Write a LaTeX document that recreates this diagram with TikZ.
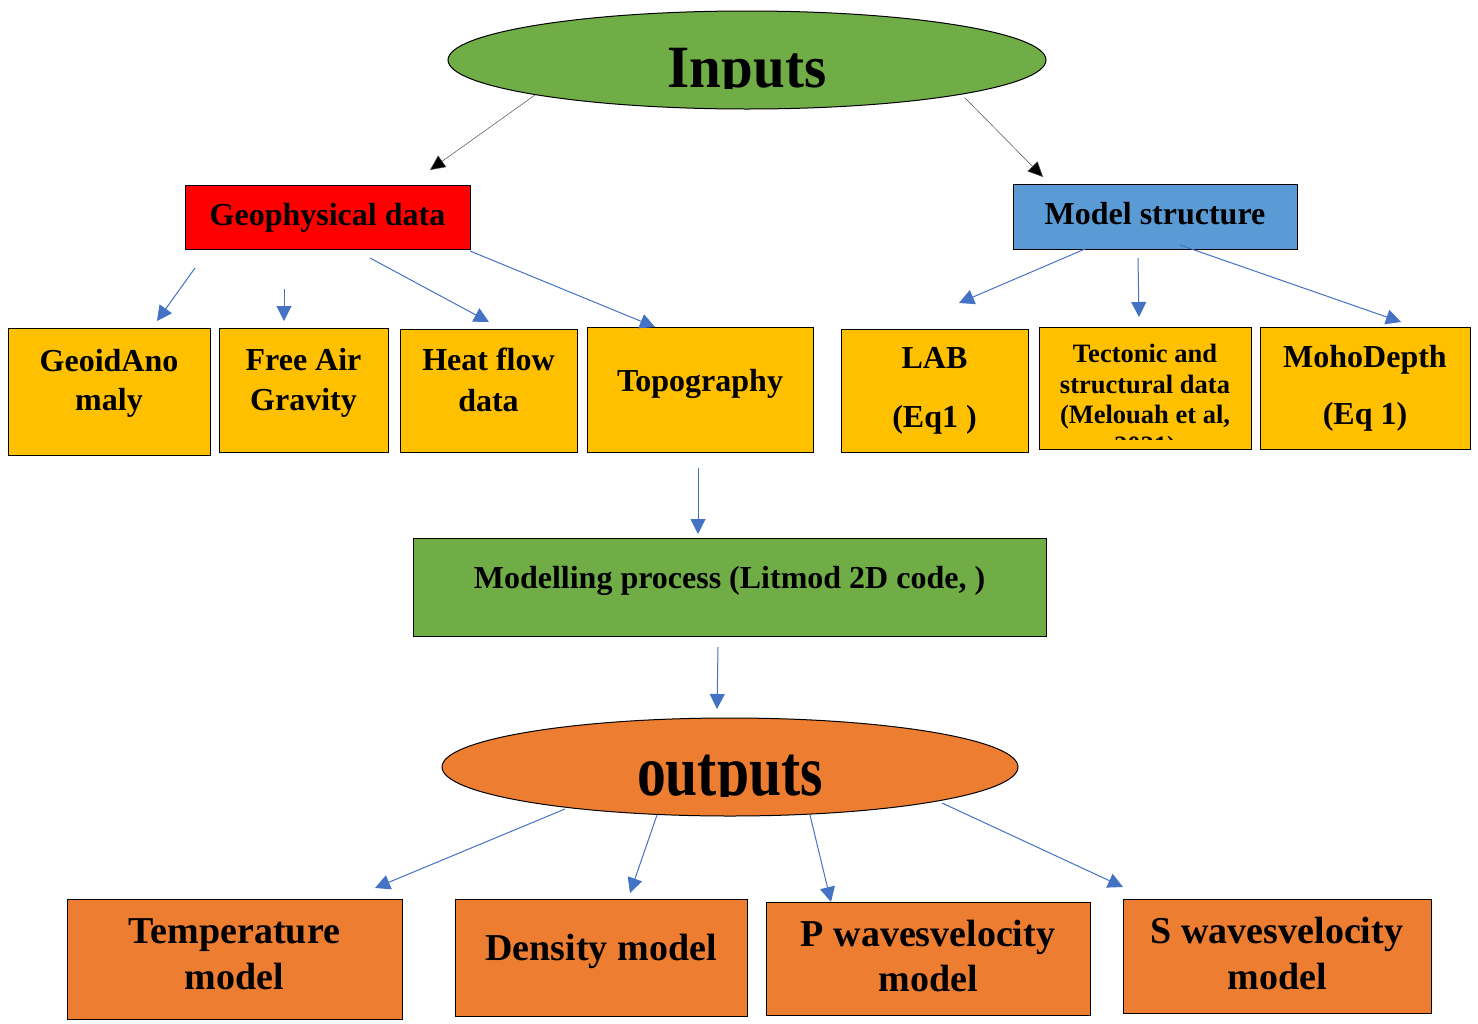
\documentclass[tikz,border=0pt]{standalone}
\usepackage{fontspec}
\setmainfont{Liberation Serif}
\usetikzlibrary{arrows.meta,shapes.geometric}
\definecolor{cgreen}{HTML}{70AD47}
\definecolor{cred}{HTML}{FF0000}
\definecolor{cblue}{HTML}{5B9BD5}
\definecolor{cyellow}{HTML}{FFC000}
\definecolor{corange}{HTML}{ED7D31}
\definecolor{carrow}{HTML}{4472C4}
\tikzset{
  box/.style={draw=black, line width=1pt, inner sep=0pt},
  ybox/.style={box, fill=cyellow},
  obox/.style={box, fill=corange},
  txt/.style={anchor=base, inner sep=0pt, text=black, font=\fontsize{#1}{#1}\selectfont\bfseries},
  bl/.style={draw=carrow, line width=1pt, -{Triangle[length=15pt,width=15pt]}},
  kl/.style={draw=black!70, line width=0.5pt, -{Triangle[length=15pt,width=14pt,fill=black]}},
}
\begin{document}
\begin{tikzpicture}[x=1pt,y=-1pt]
\useasboundingbox (0,0) rectangle (1478,1023);
\fill[white] (0,0) rectangle (1478,1023);
% Inputs ellipse
\node[ellipse, draw=black, line width=1pt, fill=cgreen, minimum width=598, minimum height=98, inner sep=0pt] (inputs) at (747,60) {};
\begin{scope}
\clip (450,10) rectangle (1044,88);
\node[anchor=base, inner sep=0pt, xscale=0.95, font=\fontsize{60}{60}\selectfont\bfseries] (inputstxt) at (747,87) {Inputs};
\end{scope}
% second level
\node[box, fill=cred, minimum width=285, minimum height=64] (geo) at (327.5,217) {};
\node[txt=32] (geot) at (327.5,225) {Geophysical data};
\node[box, fill=cblue, minimum width=284, minimum height=65] (model) at (1155,216.5) {};
\node[txt=32] (modelt) at (1155,224) {Model structure};
\coordinate (i1) at (535,95); \coordinate (i1e) at (430,170);
\coordinate (i2) at (965,98); \coordinate (i2e) at (1043,177);
\draw[kl] (i1) -- (i1e);
\draw[kl] (i2) -- (i2e);
% yellow boxes
\node[ybox, minimum width=202, minimum height=127] (geoid) at (109,391.5) {};
\node[txt=32] (geoid1) at (109,371) {GeoidAno};
\node[txt=32] (geoid2) at (109,410) {maly};
\node[ybox, minimum width=169, minimum height=124] (fag) at (303.5,390) {};
\node[txt=32] (fag1) at (303.5,370) {Free Air};
\node[txt=32] (fag2) at (303.5,410) {Gravity};
\node[ybox, minimum width=177, minimum height=123] (heat) at (488.5,390.5) {};
\node[txt=32] (heat1) at (488.5,370) {Heat flow};
\node[txt=32] (heat2) at (488.5,411) {data};
\node[ybox, minimum width=226, minimum height=125] (topo) at (700,389.5) {};
\node[txt=32] (topo1) at (700,391) {Topography};
\node[ybox, minimum width=187, minimum height=123] (lab) at (934.5,390.5) {};
\node[txt=32] (lab1) at (934.5,368) {LAB};
\node[txt=32] (lab2) at (934.5,427) {(Eq1 )};
\node[ybox, minimum width=212, minimum height=122] (tect) at (1145,388) {};
\begin{scope}
\clip (1041,329) rectangle (1249,439);
\node[txt=26.5] (tect1) at (1145,362) {Tectonic and};
\node[txt=26.5] (tect2) at (1145,393) {structural data};
\node[txt=26.5] (tect3) at (1145,423) {(Melouah et al,};
\node[txt=26.5] (tect4) at (1145,454) {2021)};
\end{scope}
\node[ybox, minimum width=210, minimum height=122] (moho) at (1365,388) {};
\node[txt=32] (moho1) at (1365,367) {MohoDepth};
\node[txt=32] (moho2) at (1365,424) {(Eq 1)};
% arrows to yellow
\coordinate (a1s) at (195,268); \coordinate (a1e) at (157,321);
\coordinate (a2s) at (284,289); \coordinate (a2e) at (284,321);
\coordinate (a3s) at (370,258); \coordinate (a3e) at (489,322);
\coordinate (a4s) at (470,251); \coordinate (a4e) at (655,327);
\coordinate (b1s) at (1085,249); \coordinate (b1e) at (959,303);
\coordinate (b2s) at (1138,258); \coordinate (b2e) at (1139,317);
\coordinate (b3s) at (1180,245); \coordinate (b3e) at (1401,322);
\foreach \s/\e in {a1s/a1e,a2s/a2e,a3s/a3e,a4s/a4e,b1s/b1e,b2s/b2e,b3s/b3e}
  \draw[bl] (\s) -- (\e);
% modelling
\node[box, fill=cgreen, minimum width=633, minimum height=98] (proc) at (729.5,587) {};
\node[txt=32] (proct) at (729.5,588) {Modelling process (Litmod 2D code, )};
\coordinate (m1s) at (698,468); \coordinate (m1e) at (698,534);
\coordinate (m2s) at (718,647); \coordinate (m2e) at (717,709);
\draw[bl] (m1s) -- (m1e);
\draw[bl] (m2s) -- (m2e);
% outputs ellipse
\node[ellipse, draw=black, line width=1pt, fill=corange, minimum width=576, minimum height=98, inner sep=0pt] (outputs) at (730,767) {};
\begin{scope}
\clip (444,718) rectangle (1016,796);
\node[anchor=base, inner sep=0pt, xscale=0.8, font=\fontsize{72}{72}\selectfont\bfseries] (outputstxt) at (730,795) {outputs};
\end{scope}
% orange boxes
\node[obox, minimum width=335, minimum height=120] (temp) at (234.5,959) {};
\node[txt=38] (temp1) at (234.5,943) {Temperature};
\node[txt=38] (temp2) at (234.5,989) {model};
\node[obox, minimum width=292, minimum height=117] (dens) at (601,957.5) {};
\node[txt=38] (dens1) at (601,960) {Density model};
\node[obox, minimum width=324, minimum height=113] (pw) at (928,958.5) {};
\node[txt=38] (pw1) at (928,946) {P wavesvelocity};
\node[txt=38] (pw2) at (928,991) {model};
\node[obox, minimum width=308, minimum height=114] (sw) at (1277,956) {};
\node[txt=38] (sw1) at (1277,943) {S wavesvelocity};
\node[txt=38] (sw2) at (1277,989) {model};
\coordinate (o1s) at (565,809); \coordinate (o1e) at (375,888);
\coordinate (o2s) at (657,815); \coordinate (o2e) at (630,893);
\coordinate (o3s) at (810,815); \coordinate (o3e) at (831,902);
\coordinate (o4s) at (942,803); \coordinate (o4e) at (1123,887);
\foreach \s/\e in {o1s/o1e,o2s/o2e,o3s/o3e,o4s/o4e}
  \draw[bl] (\s) -- (\e);
\end{tikzpicture}
\end{document}
